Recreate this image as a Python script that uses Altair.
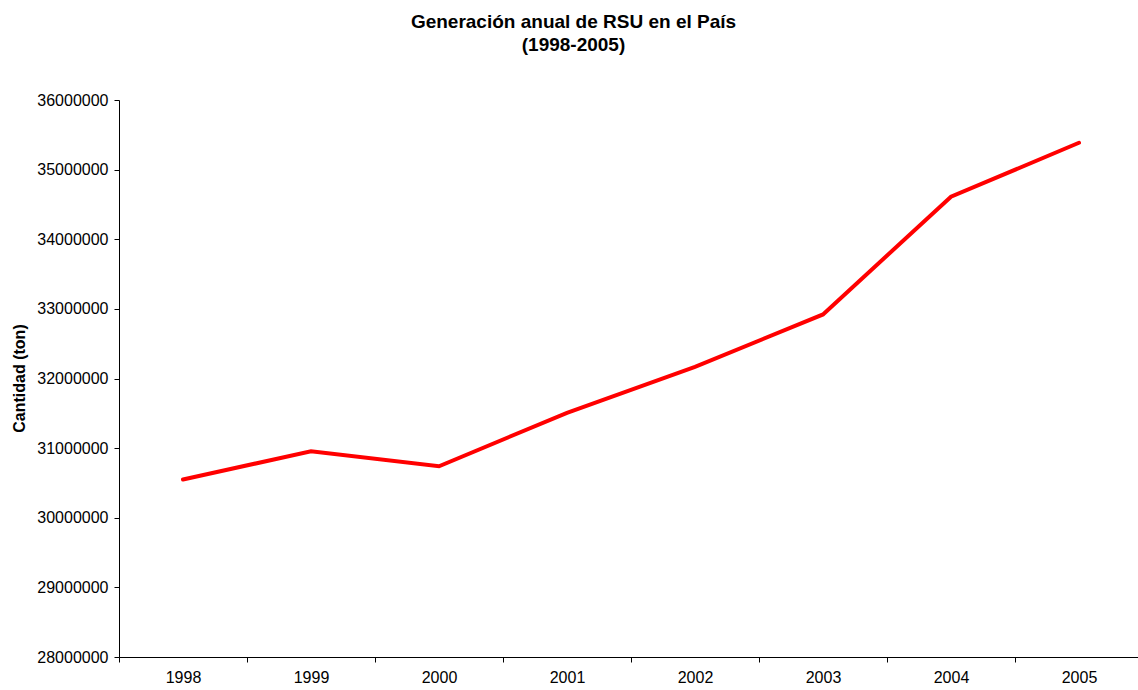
import altair as alt
import pandas as pd

# Annual municipal solid waste generation (tonnes)
years = ["1998", "1999", "2000", "2001", "2002", "2003", "2004", "2005"]
tonnes = [30549000, 30955000, 30740000, 31507000, 32168000, 32920000, 34611000, 35386000]
y_ticks = [28000000, 29000000, 30000000, 31000000, 32000000, 33000000, 34000000, 35000000, 36000000]

df = pd.DataFrame({"year": years, "tonnes": tonnes})

FONT = "Liberation Sans"

line = alt.Chart(df).mark_line(
    color="#FF0000", strokeWidth=4, strokeCap="round"
).encode(
    x=alt.X(
        "year:O",
        bandPosition=0.5,
        sort=years,
        scale=alt.Scale(type="band", paddingInner=0, paddingOuter=0, range=[0, 1024]),
        axis=alt.Axis(
            title=None,
            labelAngle=0,
            tickBand="extent",
            tickSize=5,
            labelPadding=7,
            labelFontSize=16,
            labelFont=FONT,
            labelColor="black",
            domainColor="black",
            tickColor="black",
            grid=False,
        ),
    ),
    y=alt.Y(
        "tonnes:Q",
        scale=alt.Scale(domain=[28000000, 36000000], nice=False, zero=False),
        axis=alt.Axis(
            title="Cantidad (ton)",
            values=y_ticks,
            format="d",
            tickSize=5,
            labelPadding=6,
            labelFontSize=16,
            labelFont=FONT,
            labelColor="black",
            domainColor="black",
            tickColor="black",
            grid=False,
            titleFont=FONT,
            titleFontSize=16,
            titleFontWeight="bold",
            titleColor="black",
            titleX=-100,
            titleY=278,
            titleAngle=270,
            titleAlign="center",
            titleBaseline="middle",
        ),
    ),
)

chart = line.properties(
    width=1019,
    height=557,
    title=alt.TitleParams(
        text=["Generación anual de RSU en el País", "(1998-2005)"],
        font=FONT,
        fontSize=19,
        fontWeight="bold",
        color="black",
        anchor="middle",
        frame="group",
        dx=-55,
        offset=37,
        lineHeight=23,
    ),
    autosize=alt.AutoSizeParams(type="none"),
    padding={"left": 119, "top": 100, "right": 0, "bottom": 33},
).configure(background="white").configure_view(stroke=None)

chart.save("out.html", embed_options={"renderer": "svg", "actions": False})
